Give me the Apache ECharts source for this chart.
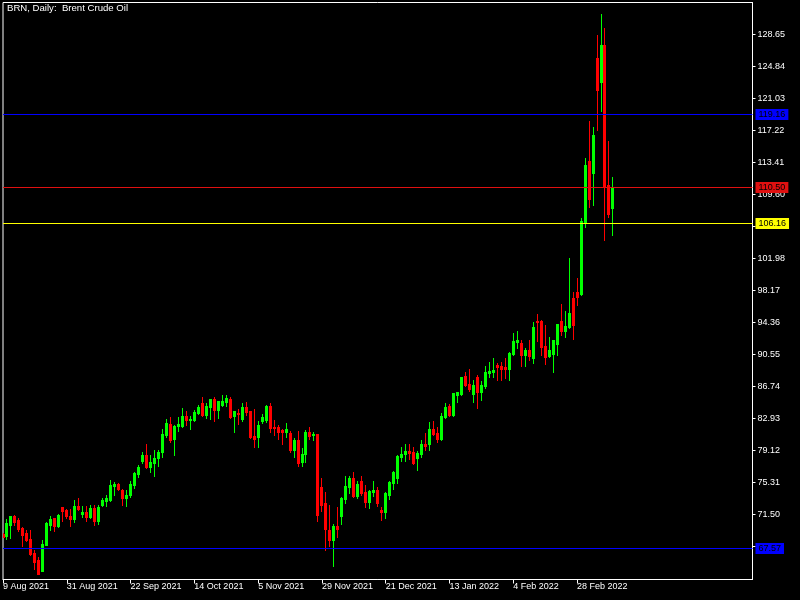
<!DOCTYPE html>
<html><head><meta charset="utf-8">
<script src="https://cdn.jsdelivr.net/npm/echarts@6/dist/echarts.min.js"></script>
<style>html,body{margin:0;padding:0;background:#000}#c{width:800px;height:600px}</style>
</head><body><div id="c"></div>
<script>
const dates = [
'2021-08-09','2021-08-10','2021-08-11','2021-08-12','2021-08-13','2021-08-16','2021-08-17','2021-08-18','2021-08-19','2021-08-20',
'2021-08-23','2021-08-24','2021-08-25','2021-08-26','2021-08-27','2021-08-30','2021-08-31','2021-09-01','2021-09-02','2021-09-03',
'2021-09-06','2021-09-07','2021-09-08','2021-09-09','2021-09-10','2021-09-13','2021-09-14','2021-09-15','2021-09-16','2021-09-17',
'2021-09-20','2021-09-21','2021-09-22','2021-09-23','2021-09-24','2021-09-27','2021-09-28','2021-09-29','2021-09-30','2021-10-01',
'2021-10-04','2021-10-05','2021-10-06','2021-10-07','2021-10-08','2021-10-11','2021-10-12','2021-10-13','2021-10-14','2021-10-15',
'2021-10-18','2021-10-19','2021-10-20','2021-10-21','2021-10-22','2021-10-25','2021-10-26','2021-10-27','2021-10-28','2021-10-29',
'2021-11-01','2021-11-02','2021-11-03','2021-11-04','2021-11-05','2021-11-08','2021-11-09','2021-11-10','2021-11-11','2021-11-12',
'2021-11-15','2021-11-16','2021-11-17','2021-11-18','2021-11-19','2021-11-22','2021-11-23','2021-11-24','2021-11-25','2021-11-26',
'2021-11-29','2021-11-30','2021-12-01','2021-12-02','2021-12-03','2021-12-06','2021-12-07','2021-12-08','2021-12-09','2021-12-10',
'2021-12-13','2021-12-14','2021-12-15','2021-12-16','2021-12-17','2021-12-20','2021-12-21','2021-12-22','2021-12-23','2021-12-27',
'2021-12-28','2021-12-29','2021-12-30','2021-12-31','2022-01-03','2022-01-04','2022-01-05','2022-01-06','2022-01-07','2022-01-10',
'2022-01-11','2022-01-12','2022-01-13','2022-01-14','2022-01-17','2022-01-18','2022-01-19','2022-01-20','2022-01-21','2022-01-24',
'2022-01-25','2022-01-26','2022-01-27','2022-01-28','2022-01-31','2022-02-01','2022-02-02','2022-02-03','2022-02-04','2022-02-07',
'2022-02-08','2022-02-09','2022-02-10','2022-02-11','2022-02-14','2022-02-15','2022-02-16','2022-02-17','2022-02-18','2022-02-21',
'2022-02-22','2022-02-23','2022-02-24','2022-02-25','2022-02-28','2022-03-01','2022-03-02','2022-03-03','2022-03-04','2022-03-07',
'2022-03-08','2022-03-09','2022-03-10','2022-03-11'
];
const open = [
69.24,68.89,70.31,71.27,70.79,69.84,69.36,68.53,66.98,66.03,64.84,67.93,70.31,71.03,70.19,72.34,71.98,71.38,70.91,72.46,
71.62,71.74,71.15,72.22,70.67,72.69,73.05,73.17,74.84,75.07,74.36,73.41,73.77,74.96,76.26,77.81,78.53,77.10,77.57,78.17,
78.88,80.90,82.21,80.43,81.98,81.98,83.17,82.69,82.69,83.53,84.72,83.29,84.24,85.19,83.88,84.48,84.83,85.19,83.17,83.53,
82.81,84.24,83.76,80.79,80.67,82.57,82.69,84.36,81.86,81.86,81.50,81.26,81.14,79.12,80.31,77.69,78.64,81.26,80.90,81.02,
74.72,72.81,69.60,68.41,70.19,71.38,73.29,74.72,75.79,73.65,75.43,74.12,72.93,74.12,74.36,71.98,71.74,73.77,75.19,75.79,
78.29,78.64,79.00,78.88,78.17,78.64,79.83,79.83,81.62,81.14,80.43,83.05,84.36,83.29,85.67,85.79,87.93,86.98,85.79,87.81,
86.03,86.74,88.29,88.41,89.24,89.12,89.00,88.77,90.55,91.98,91.86,90.43,91.03,90.08,94.48,94.48,91.51,90.31,90.55,91.74,
94.48,93.29,93.77,97.22,97.93,97.70,106.15,113.53,112.10,125.79,122.93,127.34,110.67,107.94
];
const high = [
69.36,70.91,71.30,71.50,71.03,69.99,69.60,69.60,67.22,66.39,68.41,70.55,71.38,71.05,71.62,72.38,72.10,72.10,73.17,73.41,
72.46,72.46,72.58,72.69,72.69,73.41,73.77,75.55,75.31,75.19,74.48,74.36,75.43,76.50,77.34,78.88,79.83,78.53,79.12,79.12,
81.62,82.81,83.05,82.10,83.05,84.12,83.76,83.17,83.88,84.48,85.43,84.72,85.22,85.43,84.98,85.67,85.67,85.43,83.79,84.00,
84.72,84.83,83.79,84.00,82.57,83.41,84.48,84.72,82.69,82.10,81.62,82.33,81.39,80.55,81.39,79.36,81.50,81.86,81.26,81.05,
75.79,74.12,72.69,70.43,72.34,73.53,76.03,76.14,76.50,75.43,76.14,74.96,74.36,75.43,74.72,72.34,74.12,75.43,76.62,78.53,
79.48,79.83,79.83,79.48,79.00,80.31,81.14,82.45,82.57,81.86,83.53,84.72,84.60,85.94,86.06,87.84,88.41,88.77,87.46,88.05,
87.34,89.12,89.60,90.08,89.48,89.60,90.08,90.79,93.05,93.29,92.22,91.27,92.22,94.36,95.31,94.60,93.99,92.58,92.25,94.15,
96.50,95.67,101.98,97.93,99.60,106.75,113.89,118.29,117.58,128.53,131.03,129.36,115.91,111.63
];
const low = [
68.77,68.53,68.65,70.23,69.52,67.73,68.29,66.74,64.96,64.40,64.80,67.90,69.60,69.48,69.99,70.67,71.03,70.08,70.55,71.98,
71.15,70.67,71.03,70.31,70.43,72.46,72.46,73.15,73.77,74.36,72.58,72.46,73.53,74.60,75.91,77.57,77.05,76.50,76.14,77.22,
78.29,80.67,80.07,78.53,81.39,81.95,82.10,81.62,82.57,83.41,83.25,82.93,82.81,82.57,82.93,84.36,84.36,83.02,81.26,82.21,
82.57,83.29,80.55,79.48,79.48,82.33,82.45,81.26,80.90,80.43,79.83,80.67,78.88,78.29,77.22,77.22,77.69,80.43,80.31,70.67,
71.86,67.22,67.81,65.43,68.88,70.43,72.81,74.00,73.53,73.41,73.77,72.34,72.22,73.65,72.46,70.79,71.03,73.29,74.48,75.19,
77.81,77.81,78.05,77.45,76.74,78.29,79.12,79.12,80.90,80.07,80.40,82.93,83.17,83.26,84.83,85.67,86.74,86.15,84.83,84.12,
85.07,86.50,87.81,87.81,87.46,87.46,87.69,87.46,90.43,91.27,89.12,89.12,89.84,89.48,92.10,90.43,89.36,90.20,88.41,90.43,
92.81,92.58,93.74,92.34,96.39,97.58,105.68,108.06,108.30,117.22,119.48,104.12,106.86,104.72
];
const close = [
68.88,70.47,71.27,70.59,69.75,69.12,68.41,66.86,65.91,64.48,68.05,70.47,70.91,70.19,71.50,71.86,71.27,70.91,72.46,72.10,
71.74,71.15,72.22,70.71,72.34,73.17,73.41,74.96,75.07,74.48,73.41,73.88,75.07,76.38,77.10,78.53,77.10,77.69,78.17,78.88,
81.02,82.33,80.31,81.98,82.21,83.17,82.69,82.81,83.64,84.24,83.29,84.36,85.19,83.88,84.95,84.95,85.31,83.05,83.76,83.41,
84.24,83.64,80.67,80.43,82.10,83.05,84.36,81.74,81.74,81.26,81.26,81.62,79.12,80.31,77.57,78.64,81.26,80.79,81.02,71.50,
72.69,69.72,68.41,70.19,69.72,73.41,74.84,75.79,73.65,75.07,74.00,72.93,74.24,74.36,72.81,71.74,74.00,75.31,76.50,78.41,
78.64,79.00,78.76,77.57,78.76,79.83,79.60,81.62,81.02,80.43,83.17,84.24,83.29,85.91,86.03,87.81,86.86,86.39,86.86,86.03,
86.86,88.41,88.53,88.65,89.00,88.77,88.77,90.67,92.10,92.22,90.43,91.03,90.31,93.77,94.36,91.39,90.20,91.03,92.22,94.12,
93.29,93.88,95.43,94.00,97.34,106.39,113.05,109.01,116.62,121.98,127.34,110.55,107.22,110.50
];
const priceTicks = [128.65,124.84,121.03,117.22,113.41,109.60,105.79,101.98,98.17,94.36,90.55,86.74,82.93,79.12,75.31,71.50,67.69];
const levelValues = [119.16, 110.50, 106.16, 67.57];
const levelColors = ['#0000ff', '#e01010', '#ffff00', '#0000ff'];
const titleText = 'BRN, Daily:  Brent Crude Oil';

const MONTHS = ['Jan','Feb','Mar','Apr','May','Jun','Jul','Aug','Sep','Oct','Nov','Dec'];
function fmtDate(s) {
  if (!s) return '';
  const p = s.split('-');
  return parseInt(p[2], 10) + ' ' + MONTHS[parseInt(p[1], 10) - 1] + ' ' + p[0];
}
const slots = 188;
const categories = dates.concat(new Array(slots - dates.length).fill(''));
const candleData = dates.map((d, i) => [i, open[i], close[i], low[i], high[i]]);
const levelData = levelValues.map(v => [0, v]);
const showIdx = (idx, val) => idx % 16 === 0 && val !== '';
const FONT = 'Liberation Sans';

function renderCandle(params, api) {
  const i = api.value(0);
  const o = api.value(1), c = api.value(2), l = api.value(3), h = api.value(4);
  const pO = api.coord([i, o]), pC = api.coord([i, c]), pL = api.coord([i, l]), pH = api.coord([i, h]);
  const x = Math.floor(pO[0]);
  const color = c >= o ? '#00ff00' : '#ff0000';
  const yTop = Math.round(Math.min(pO[1], pC[1]));
  const yBot = Math.round(Math.max(pO[1], pC[1]));
  const yH = Math.round(pH[1]), yL = Math.round(pL[1]);
  return {
    type: 'group',
    children: [
      {type: 'rect', shape: {x: x, y: yH, width: 1, height: Math.max(1, yL - yH + 1)}, style: {fill: color}},
      {type: 'rect', shape: {x: x - 1, y: yTop, width: 3, height: Math.max(1, yBot - yTop + 1)}, style: {fill: color}}
    ]
  };
}

function renderLevel(params, api) {
  const v = api.value(1);
  const cs = params.coordSys;
  const y = Math.round(api.coord([0, v])[1]);
  const color = levelColors[params.dataIndex];
  return {
    type: 'group',
    children: [
      {type: 'rect', shape: {x: cs.x, y: y, width: cs.width, height: 1}, style: {fill: color}},
      {type: 'text', x: cs.x + cs.width + 3, y: y + 0.5,
        style: {text: v.toFixed(2), fill: '#000', font: '9px "Liberation Sans"', verticalAlign: 'middle', align: 'left',
          backgroundColor: color, padding: [1, 3, 1, 3]}}
    ]
  };
}

const chart = echarts.init(document.getElementById('c'), null, {renderer: 'canvas'});
chart.setOption({
  animation: false,
  backgroundColor: '#000',
  title: {
    text: titleText, left: 7, top: 3, padding: 0,
    textStyle: {color: '#fff', fontSize: 9.6, fontWeight: 'normal', fontFamily: FONT}
  },
  grid: {left: 2.5, top: 2.5, width: 750, height: 577, show: true, borderColor: '#fff', borderWidth: 1, backgroundColor: '#000', containLabel: false},
  xAxis: {
    type: 'category', data: categories, boundaryGap: false, min: 0, max: 187.5,
    axisLine: {show: true, lineStyle: {color: '#fff', width: 1}},
    axisTick: {show: true, interval: showIdx, length: 4, lineStyle: {color: '#fff'}},
    axisLabel: {show: true, interval: showIdx, formatter: fmtDate, color: '#fff', fontSize: 9, fontFamily: FONT, align: 'left', margin: 3, hideOverlap: false},
    splitLine: {show: false}
  },
  yAxis: {
    type: 'value', position: 'right', min: 63.77, max: 132.40, scale: true,
    axisLine: {show: true, lineStyle: {color: '#fff', width: 1}},
    axisTick: {show: true, customValues: priceTicks, length: 3, lineStyle: {color: '#fff'}},
    axisLabel: {show: true, customValues: priceTicks, formatter: v => Number(v).toFixed(2), color: '#fff', fontSize: 9, fontFamily: FONT, margin: 5},
    splitLine: {show: false}
  },
  series: [
    {
      type: 'custom', name: 'candles', renderItem: renderCandle, data: candleData,
      encode: {x: 0, y: [1, 2, 3, 4]}, clip: true, z: 2
    },
    {
      type: 'custom', name: 'levels', renderItem: renderLevel, data: levelData,
      encode: {x: 0, y: 1}, clip: false, z: 5, silent: true
    }
  ]
});
</script>
</body></html>
